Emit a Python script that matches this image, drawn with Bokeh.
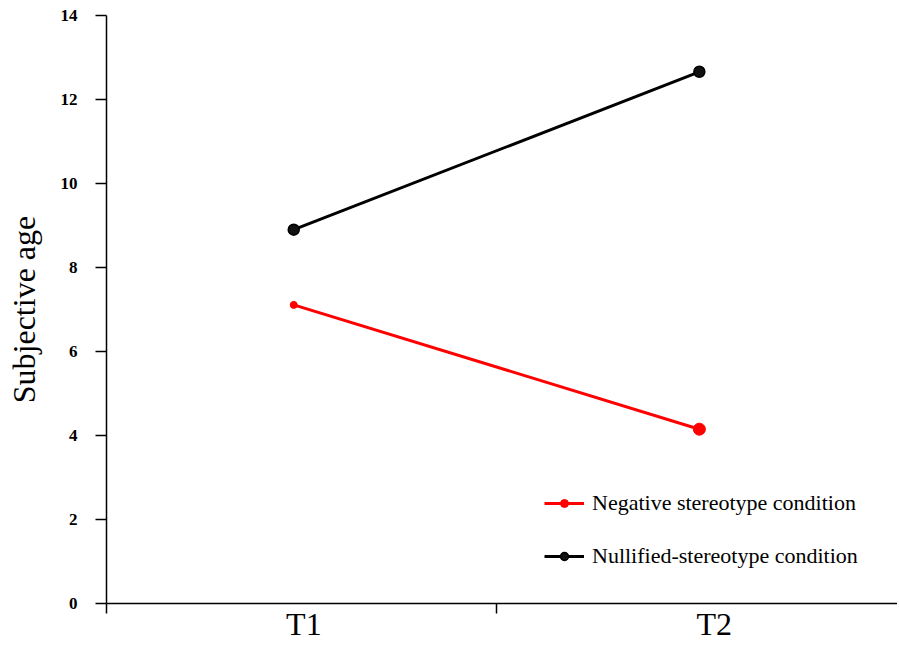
from bokeh.plotting import figure
from bokeh.models import Range1d, FixedTicker, Legend, LegendItem, ColumnDataSource
from bokeh.embed import file_html
from bokeh.resources import INLINE

# data
time_pos = [0.48, 1.52]
time_label_pos = [0.506, 1.558]
time_labels = ["T1", "T2"]
negative = [7.11, 4.15]
negative_sizes = [7, 12]
nullified = [8.90, 12.66]
y_ticks = [0, 2, 4, 6, 8, 10, 12, 14]

SERIF = "Liberation Serif"

p = figure(width=897, height=644, output_backend="svg", toolbar_location=None,
           x_range=Range1d(0, 2.028), y_range=Range1d(0, 14),
           min_border_left=106, min_border_right=0, min_border_top=15, min_border_bottom=0)
p.outline_line_color = None
p.xgrid.grid_line_color = None
p.ygrid.grid_line_color = None
p.background_fill_color = "white"

src_neg = ColumnDataSource(dict(x=time_pos, y=negative, s=negative_sizes))
src_nul = ColumnDataSource(dict(x=time_pos, y=nullified))

l_neg = p.line("x", "y", source=src_neg, line_color="#ff0000", line_width=3)
c_neg = p.scatter("x", "y", source=src_neg, size="s", fill_color="#ff0000", line_color="#ff0000")
l_nul = p.line("x", "y", source=src_nul, line_color="black", line_width=3)
c_nul = p.scatter("x", "y", source=src_nul, size=11, fill_color="#111111", line_color="black", line_width=1.5)

# y axis
ya = p.yaxis[0]
ya.ticker = FixedTicker(ticks=y_ticks, minor_ticks=[])
ya.axis_label = "Subjective age"
ya.axis_label_text_font = SERIF
ya.axis_label_text_font_size = "32px"
ya.axis_label_text_font_style = "normal"
ya.axis_label_text_color = "black"
ya.axis_label_standoff = 16
ya.major_label_text_font = SERIF
ya.major_label_text_font_size = "17px"
ya.major_label_text_font_style = "bold"
ya.major_label_text_color = "black"
ya.major_label_standoff = 18
ya.major_tick_out = 11
ya.major_tick_in = 0
ya.major_tick_line_width = 1.5
ya.axis_line_width = 1.5
ya.axis_line_color = "black"
ya.major_tick_line_color = "black"

# x axis: boundary ticks as minor ticks, category names as major labels
xa = p.xaxis[0]
xa.ticker = FixedTicker(ticks=time_label_pos, minor_ticks=[0, 1])
xa.major_label_overrides = {time_label_pos[i]: time_labels[i] for i in range(2)}
xa.major_label_text_font = SERIF
xa.major_label_text_font_size = "32px"
xa.major_label_text_color = "black"
xa.major_label_standoff = -8
xa.major_tick_line_color = None
xa.major_tick_out = 0
xa.major_tick_in = 0
xa.minor_tick_out = 10
xa.minor_tick_in = 0
xa.minor_tick_line_color = "black"
xa.minor_tick_line_width = 1.5
xa.axis_line_width = 1.5
xa.axis_line_color = "black"

legend = Legend(items=[
    LegendItem(label="Negative stereotype condition", renderers=[l_neg, c_neg], index=0),
    LegendItem(label="Nullified-stereotype condition", renderers=[l_nul, c_nul], index=0),
], location=(438, 34))
legend.label_text_font = SERIF
legend.label_text_font_size = "22px"
legend.label_text_color = "black"
legend.glyph_width = 40
legend.glyph_height = 20
legend.label_height = 20
legend.spacing = 27
legend.label_standoff = 8
legend.padding = 0
legend.margin = 0
legend.border_line_color = None
legend.background_fill_alpha = 0
p.add_layout(legend)

open("out.html", "w").write(file_html(p, INLINE))
